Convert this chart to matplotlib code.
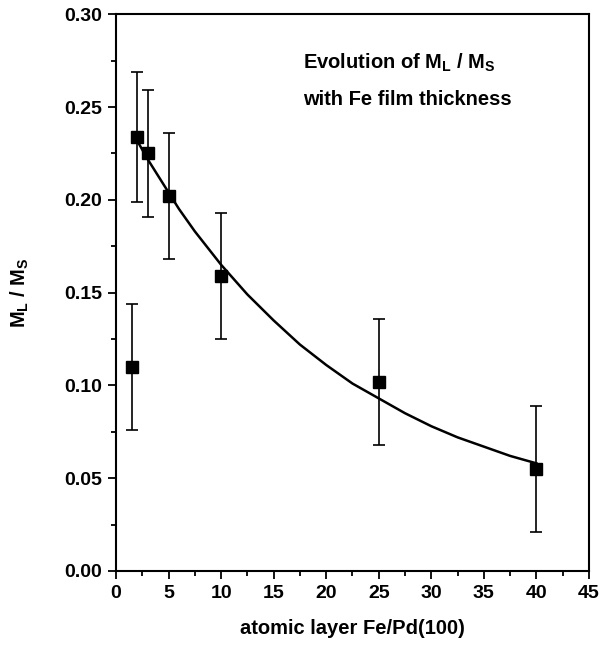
import matplotlib
matplotlib.use("Agg")
import matplotlib.pyplot as plt
from matplotlib.ticker import MultipleLocator, FormatStrFormatter

plt.rcParams['font.family'] = ['Liberation Sans', 'DejaVu Sans']
plt.rcParams['font.weight'] = 'bold'
plt.rcParams['mathtext.default'] = 'regular'

# measured points
x_pts = [1.5, 2, 3, 5, 10, 25, 40]
y_pts = [0.110, 0.234, 0.225, 0.202, 0.159, 0.102, 0.055]
y_err = [0.034, 0.035, 0.034, 0.034, 0.034, 0.034, 0.034]

# fitted curve
x_fit = [2, 3, 4, 5, 6, 7.5, 10, 12.5, 15, 17.5, 20, 22.5, 25, 27.5, 30, 32.5, 35, 37.5, 40]
y_fit = [0.232, 0.222, 0.213, 0.204, 0.195, 0.183, 0.165, 0.149, 0.135, 0.122, 0.111,
         0.101, 0.093, 0.085, 0.078, 0.072, 0.067, 0.062, 0.058]

fig = plt.figure(figsize=(6.01, 6.47), dpi=100)
ax = fig.add_axes([0.193, 0.1175, 0.787, 0.8605])

ax.plot(x_fit, y_fit, color='black', lw=1.8)
ax.errorbar(x_pts, y_pts, yerr=y_err, fmt='s', color='black', ms=8.5,
            ecolor='black', elinewidth=1.2, capsize=4.5, capthick=1.2)

ax.set_xlim(0, 45)
ax.set_ylim(0, 0.30)
ax.xaxis.set_major_locator(MultipleLocator(5))
ax.xaxis.set_minor_locator(MultipleLocator(2.5))
ax.yaxis.set_major_locator(MultipleLocator(0.05))
ax.yaxis.set_minor_locator(MultipleLocator(0.025))
ax.yaxis.set_major_formatter(FormatStrFormatter('%.2f'))
ax.tick_params(which='both', direction='out', top=False, right=False, width=1.3)
ax.tick_params(which='major', length=6, labelsize=14, pad=4)
ax.tick_params(which='minor', length=3.5)
for s in ax.spines.values():
    s.set_linewidth(1.5)

ax.set_xlabel('atomic layer Fe/Pd(100)', fontsize=14.5, fontweight='bold', labelpad=12)
ax.set_ylabel(r'M$_{L}$ / M$_{S}$', fontsize=14.5, fontweight='bold', labelpad=24)

ax.text(17.8, 0.274, r'Evolution of M$_{L}$ / M$_{S}$', fontsize=14.5, fontweight='bold', va='center')
ax.text(17.8, 0.254, 'with Fe film thickness', fontsize=14.5, fontweight='bold', va='center')

fig.savefig('out.png', dpi=100)
